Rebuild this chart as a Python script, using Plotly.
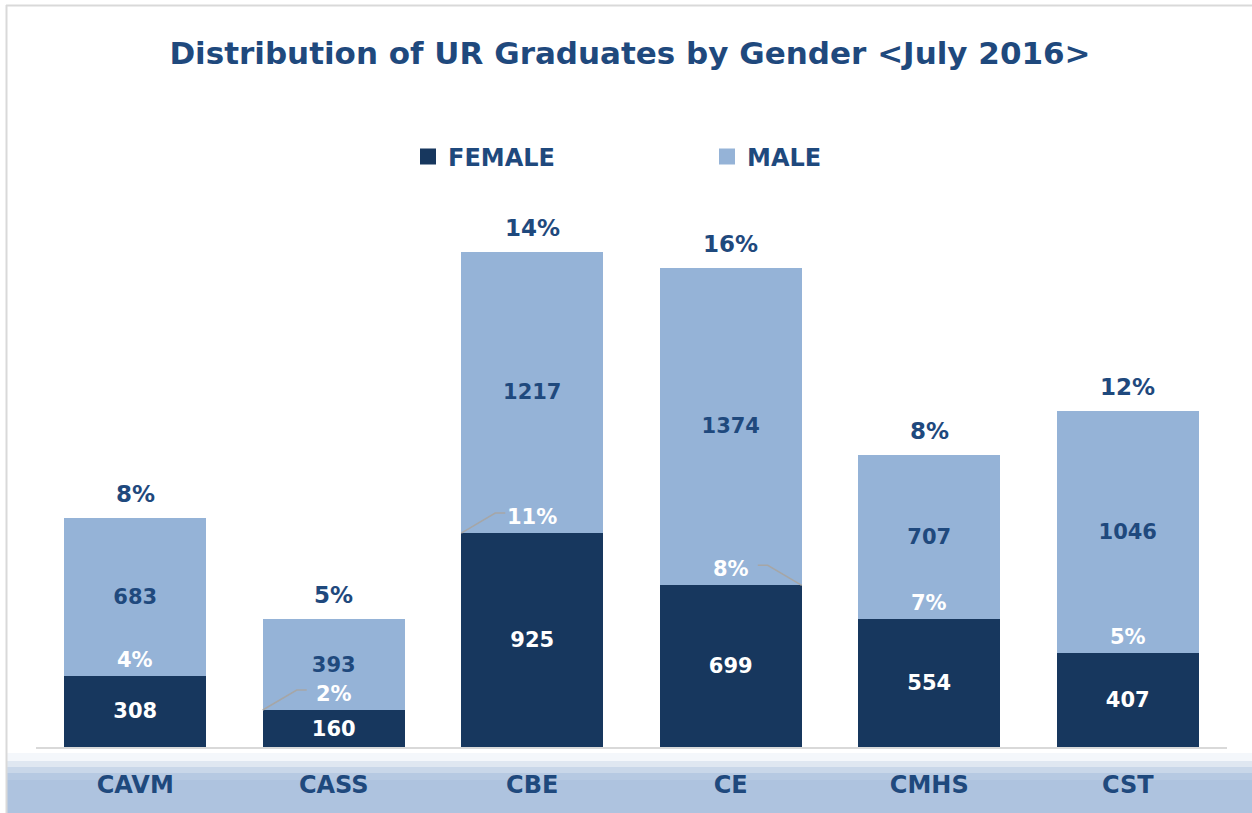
import plotly.graph_objects as go

colleges = ["CAVM", "CASS", "CBE", "CE", "CMHS", "CST"]
female = [308, 160, 925, 699, 554, 407]
male = [683, 393, 1217, 1374, 707, 1046]
female_pct = ["4%", "2%", "11%", "8%", "7%", "5%"]
male_pct = ["8%", "5%", "14%", "16%", "8%", "12%"]
leader_side = [0, -1, -1, 1, 0, 0]  # leader line for small female % labels

FEMALE_C = "#17375e"
MALE_C = "#95b3d7"
TEXT_C = "#1f497d"
FONT = "DejaVu Sans"

fig = go.Figure()
fig.add_trace(go.Bar(
    x=colleges, y=female, name="FEMALE", marker=dict(color=FEMALE_C, line=dict(width=0)),
    text=[str(v) for v in female], textposition="inside", insidetextanchor="middle",
    textfont=dict(family=FONT, size=21, color="white", weight="bold"),
    textangle=0, showlegend=False, hoverinfo="skip"))
fig.add_trace(go.Bar(
    x=colleges, y=male, name="MALE", marker=dict(color=MALE_C, line=dict(width=0)),
    text=[str(v) for v in male], textposition="inside", insidetextanchor="middle",
    textfont=dict(family=FONT, size=21, color=TEXT_C, weight="bold"),
    textangle=0, showlegend=False, hoverinfo="skip"))

# legend entries with larger square swatches
for name, col in [("FEMALE", FEMALE_C), ("MALE", MALE_C)]:
    fig.add_trace(go.Scatter(x=[None], y=[None], mode="markers", name=name,
                             marker=dict(symbol="square", size=16, color=col)))

annotations = []
shapes = []
for i, c in enumerate(colleges):
    tot = female[i] + male[i]
    annotations.append(dict(x=c, y=tot, text=male_pct[i], showarrow=False, xref="x", yref="y",
                            yanchor="middle", yshift=24,
                            font=dict(family=FONT, size=23, color=TEXT_C, weight="bold")))
    annotations.append(dict(x=c, y=female[i], text=female_pct[i], showarrow=False, xref="x", yref="y",
                            yanchor="middle", yshift=16,
                            font=dict(family=FONT, size=21, color="white", weight="bold")))
    s = leader_side[i]
    if s != 0:
        shapes.append(dict(type="path", xref="x", yref="y", xsizemode="pixel", ysizemode="pixel",
                           xanchor=c, yanchor=female[i],
                           path=f"M {71*s},0 L {37*s},20 L {27*s},20",
                           line=dict(color="#a6a6a6", width=1.5), layer="above"))

# bottom gradient band (in paper coords relative to plot domain)
L, R, T, B = 36, 1227, 192, 747
W, H = R - L, B - T
def px(xp): return (xp - L) / W
def py(yp): return (B - yp) / H
bands = [(753, 761, "#f4f7fb"), (761, 767, "#dfe7f1"), (767, 773, "#c9d7e9"),
         (773, 780, "#b6c9e2"), (780, 830, "#aec3df")]
for y0, y1, col in bands:
    shapes.append(dict(type="rect", xref="paper", yref="paper", x0=px(7), x1=px(1260),
                       y0=py(y1), y1=py(y0), fillcolor=col, line=dict(width=0), layer="below"))
# outer frame
shapes.append(dict(type="line", xref="paper", yref="paper", x0=px(6), x1=px(1260), y0=py(5.5), y1=py(5.5),
                   line=dict(color="#d9d9d9", width=2)))
shapes.append(dict(type="line", xref="paper", yref="paper", x0=px(6.5), x1=px(6.5), y0=py(5), y1=py(830),
                   line=dict(color="#d9d9d9", width=2)))

fig.update_layout(
    width=1252, height=813,
    margin=dict(l=L, r=1252 - R, t=T, b=813 - B, autoexpand=False),
    paper_bgcolor="white", plot_bgcolor="white",
    barmode="stack", bargap=0.285,
    title=dict(text="<b>Distribution of UR Graduates by Gender &lt;July 2016&gt;</b>",
               x=630 / 1252, xanchor="center", y=1 - 53 / 813, yanchor="middle", xref="container", yref="container",
               font=dict(family=FONT, size=31, color=TEXT_C)),
    legend=dict(orientation="h", x=408 / 1252, xanchor="left", y=1 - 157 / 813, yanchor="middle",
                xref="container", yref="container", entrywidth=254, traceorder="normal", itemclick=False,
                font=dict(family=FONT, size=24, color=TEXT_C, weight="bold"),
                bgcolor="rgba(0,0,0,0)"),
    annotations=annotations, shapes=shapes,
    xaxis=dict(showline=True, linecolor="#d9d9d9", linewidth=1.5, ticks="", showgrid=False,
               tickfont=dict(family=FONT, size=24, color=TEXT_C, weight="bold"),
               ticklabelstandoff=15, automargin=False, fixedrange=True),
    yaxis=dict(range=[0, 2400], visible=False, showgrid=False, zeroline=False, automargin=False,
               fixedrange=True),
    showlegend=True,
)
fig.write_html("out.html", config={"displayModeBar": False},
               post_script="document.body.style.margin='0px';")
